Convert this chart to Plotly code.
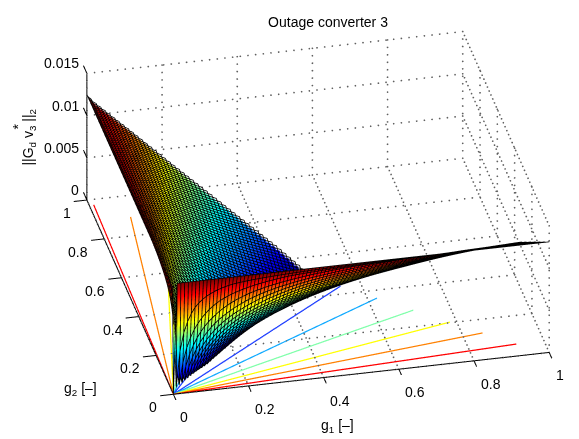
import numpy as np
import plotly.graph_objects as go

# Tick labels and level values
g_ticks = [0, 0.2, 0.4, 0.6, 0.8, 1]
z_ticks = [0, 0.005, 0.01, 0.015]
z_tick_labels = ["0", "0.005", "0.01", "0.015"]

# The base contours are straight rays from the origin, so the height depends on
# the share t = g1 / (g1 + g2) only. t of each ray is read where it meets g1 + g2 = 1.
# This profile is the only data; the dense mesh of the
# surface is looked up from it, since its cells cannot be read one by one.
profile_t = [0.0, 0.012, 0.093, 0.17, 0.25, 0.33, 0.41, 0.48, 0.554, 0.634, 0.714, 0.794, 0.866, 0.94, 1.0]
profile_z = [0.0125, 0.012, 0.010, 0.008, 0.006, 0.004, 0.002, 0.0, 0.002, 0.004, 0.006, 0.008, 0.010, 0.012, 0.0131]
ray_t = [0.012, 0.093, 0.17, 0.25, 0.33, 0.41, 0.554, 0.634, 0.714, 0.794, 0.866, 0.94]
ray_colors = ["#ff0000", "#ff8000", "#ffff00", "#7fffaa", "#10aaff", "#2040ff",
              "#2040ff", "#10aaff", "#7fffaa", "#ffff00", "#ff8000", "#ff0000"]

JET = [[0, "#00007f"], [0.125, "#0000ff"], [0.375, "#00ffff"],
       [0.625, "#ffff00"], [0.875, "#ff0000"], [1, "#7f0000"]]

g = np.linspace(0, 1, 101)
G1, G2 = np.meshgrid(g, g)
S = G1 + G2
with np.errstate(invalid="ignore", divide="ignore"):
    Z = np.interp(np.where(S > 0, G1 / S, 0.48), profile_t, profile_z)
Z[S > 1.0001] = np.nan

x_rng = [-0.06, 1.03]
y_rng = [-0.03, 1.06]
z_rng = [-0.0005, 0.0155]
K = 1.813
GX, GY, GZ = K * 387 / 400, K * 1.0, K * 147 / 400
c, s, cE, sE = 0.976, 0.2173, 0.866, 0.5

fig = go.Figure()


def segs(pairs):
    xs, ys, zs = [], [], []
    for a, b in pairs:
        xs += [a[0], b[0], None]
        ys += [a[1], b[1], None]
        zs += [a[2], b[2], None]
    return xs, ys, zs


def line3d(pairs, color, width, dash="solid"):
    xs, ys, zs = segs(pairs)
    fig.add_trace(go.Scatter3d(x=xs, y=ys, z=zs, mode="lines", hoverinfo="skip",
                               showlegend=False,
                               line=dict(color=color, width=width, dash=dash)))


def dotted(pairs):
    xs, ys, zs = [], [], []
    for (a, b, n) in pairs:
        for f in np.linspace(0, 1, n):
            xs.append(a[0] + (b[0] - a[0]) * f)
            ys.append(a[1] + (b[1] - a[1]) * f)
            zs.append(a[2] + (b[2] - a[2]) * f)
    fig.add_trace(go.Scatter3d(x=xs, y=ys, z=zs, mode="markers", hoverinfo="skip",
                               showlegend=False,
                               marker=dict(color="#606060", size=1, line=dict(width=0))))


zt = z_ticks[-1]
grid = []
for v in g_ticks:
    grid.append(((v, 0, 0), (v, 1, 0), 50))
    grid.append(((0, v, 0), (1, v, 0), 50))
    grid.append(((v, 1, 0), (v, 1, zt), 18))
    grid.append(((1, v, 0), (1, v, zt), 18))
for v in z_ticks:
    grid.append(((0, 1, v), (1, 1, v), 50))
    grid.append(((1, 0, v), (1, 1, v), 50))
dotted(grid)

for t, col in zip(ray_t, ray_colors):
    line3d([((0, 0, 0), (t * 0.985, (1 - t) * 0.985, 0))], col, 2.5)

fig.add_trace(go.Surface(
    x=g, y=g, z=Z, colorscale=JET, cmin=0, cmax=0.0131, showscale=False, hoverinfo="skip",
    lighting=dict(ambient=1, diffuse=0, specular=0, roughness=1, fresnel=0),
    contours=dict(x=dict(show=False), y=dict(show=False), z=dict(show=False))))

# Black mesh: one polyline along every row and every column of the surface grid,
# nudged along the view direction so the depth test keeps it in front of its own surface
EPS = 0.008
dx, dy, dz = -s * cE * EPS / GX, -c * cE * EPS / GY, sE * EPS * zt / GZ
mx, my, mz = [], [], []
for i in range(g.size):
    mx += list(G1[i] + dx) + [None]
    my += list(G2[i] + dy) + [None]
    mz += list(Z[i] + dz) + [None]
    mx += list(G1[:, i] + dx) + [None]
    my += list(G2[:, i] + dy) + [None]
    mz += list(Z[:, i] + dz) + [None]
mz = [None if (v is None or np.isnan(v)) else v for v in mz]
fig.add_trace(go.Scatter3d(x=mx, y=my, z=mz, mode="lines", hoverinfo="skip", showlegend=False,
                           connectgaps=False, line=dict(color="black", width=1.6)))

axes = [((0, 0, 0), (1, 0, 0)), ((0, 0, 0), (0, 1, 0)), ((0, 1, 0), (0, 1, zt))]
for v in g_ticks:
    axes.append(((v, 0, 0), (v, -0.04, 0)))
    axes.append(((0, v, 0), (-0.035, v, 0)))
for v in z_ticks:
    axes.append(((0, 1, v), (0, 1.04, v)))
line3d(axes, "black", 2)

font = dict(family="Liberation Sans, Arial, sans-serif", size=14, color="black")
ann = []
for v in g_ticks:
    ann.append(dict(x=v, y=0, z=0, text=str(v), showarrow=False, font=font, xanchor="left", xshift=4.5, yshift=-23))
    ann.append(dict(x=0, y=v, z=0, text=str(v), showarrow=False, font=font, xanchor="right", xshift=-14, yshift=-13))
for v, lab in zip(z_ticks, z_tick_labels):
    ann.append(dict(x=0, y=1, z=v, text=lab, showarrow=False, font=font, xanchor="right", xshift=-6, yshift=10))
ann.append(dict(x=0.5, y=0, z=0, text="g<sub>1</sub> [–]", showarrow=False, font=font, xshift=-24, yshift=-53))
ann.append(dict(x=0, y=0.3, z=0, text="g<sub>2</sub> [–]", showarrow=False, font=font, xshift=-67, yshift=-53))
ann.append(dict(x=0, y=1, z=0.0075, text="||G<sub>d</sub> v<sub>3</sub> ||<sub>2</sub>", textangle=-90,
                showarrow=False, font=font, xshift=-58, yshift=0))
ann.append(dict(x=0, y=1, z=0.0075, text="*", textangle=-90,
                showarrow=False, font=font, xshift=-69, yshift=10))


def ax(r):
    return dict(visible=False, range=r, showspikes=False, autorange=False)


dist = 2.0
cen = (-0.0689, -0.0241, -0.0665)
fig.update_layout(
    width=579, height=439, autosize=False,
    margin=dict(l=0, r=0, t=0, b=0), paper_bgcolor="white",
    title=dict(text="Outage converter 3", x=0.5527, xanchor="center", y=0.968, yanchor="middle",
               font=dict(family="Liberation Sans, Arial, sans-serif", size=14, color="black")),
    hovermode=False,
    scene=dict(
        domain=dict(x=[0, 1], y=[0, 1]),
        xaxis=ax(x_rng), yaxis=ax(y_rng), zaxis=ax(z_rng),
        aspectmode="manual",
        aspectratio=dict(x=GX * (x_rng[1] - x_rng[0]), y=GY * (y_rng[1] - y_rng[0]),
                         z=GZ * (z_rng[1] - z_rng[0]) / zt),
        camera=dict(projection=dict(type="orthographic"),
                    up=dict(x=0, y=0, z=1),
                    center=dict(x=cen[0], y=cen[1], z=cen[2]),
                    eye=dict(x=cen[0] - s * cE * dist, y=cen[1] - c * cE * dist, z=cen[2] + sE * dist)),
        annotations=ann,
    ),
)
fig.write_html("out.html", config=dict(displayModeBar=False))
